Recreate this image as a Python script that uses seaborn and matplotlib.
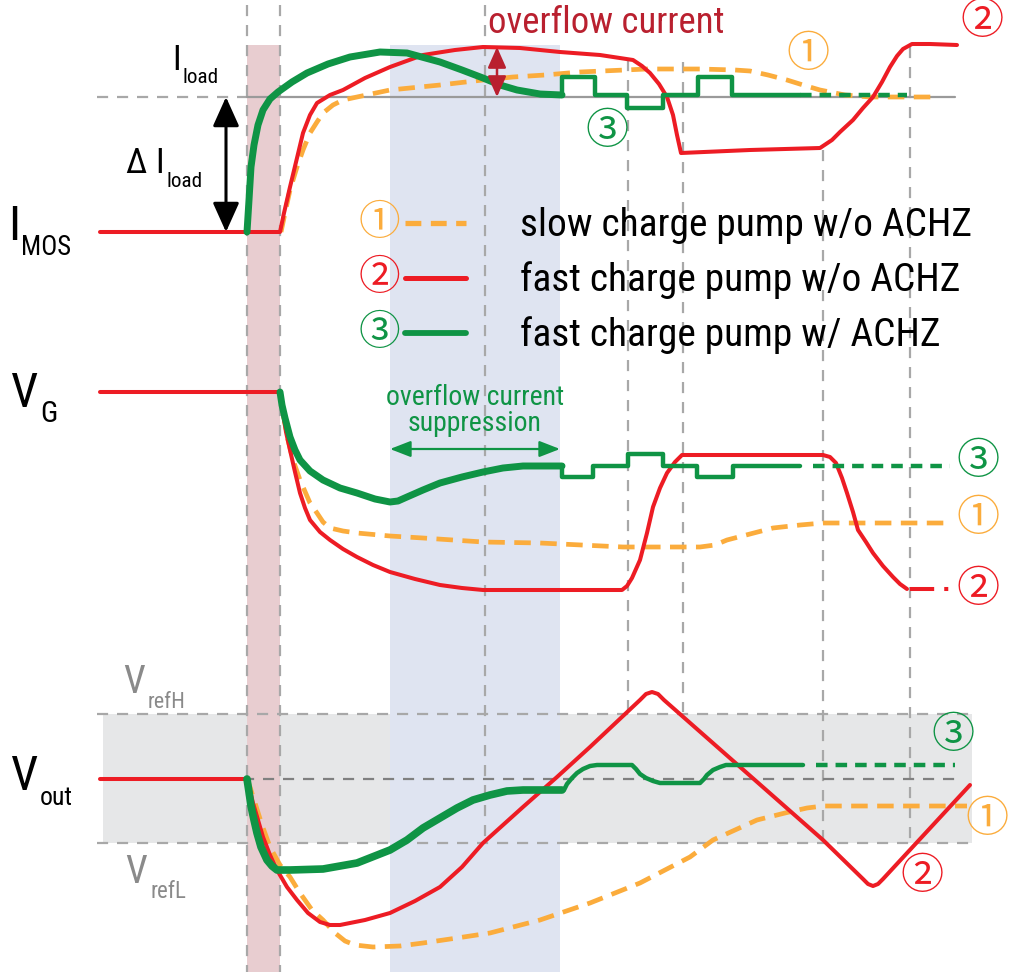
import numpy as np
import pandas as pd
import matplotlib
matplotlib.use("Agg")
import matplotlib.pyplot as plt
from matplotlib import font_manager
from matplotlib.patches import ArrowStyle
import seaborn as sns

sns.set_theme(style="white")

# pick a narrow sans face if one is installed, else Liberation Sans
_fl = font_manager.fontManager.ttflist
_names = [f.name for f in _fl]
FONT, STRETCH = None, "normal"
for cand in ["Liberation Sans Narrow", "Arial Narrow", "Roboto Condensed", "Open Sans Condensed",
             "Noto Sans Condensed", "Noto Sans SemiCondensed", "DejaVu Sans Condensed"]:
    if cand in _names:
        FONT = cand
        break
if FONT is None:
    for fam in ["Roboto", "Noto Sans", "Open Sans", "Liberation Sans"]:
        if any(f.name == fam and str(f.stretch) in ("condensed", "semi-condensed", "extra-condensed", "75", "87.5")
               for f in _fl):
            FONT, STRETCH = fam, "condensed"
            break
if FONT is None:
    FONT = "Liberation Sans"
plt.rcParams["font.family"] = [FONT, "DejaVu Sans"]
CJK = ["Noto Sans CJK JP", "DejaVu Sans"]

# ---------------- data (picture coordinates, y grows downward) ----------------
series_names = ["slow charge pump w/o ACHZ", "fast charge pump w/o ACHZ", "fast charge pump w/ ACHZ"]
series_marks = ["①", "②", "③"]

# I_MOS panel
red_i_x = [100, 280, 284, 290, 297, 303, 310, 317, 330, 343, 365, 390, 423, 455, 483, 520, 560, 600, 633, 642,
           650, 659, 667, 673, 677, 681, 750, 820, 832, 840, 853, 863, 873, 882, 890, 897, 903, 912, 930, 957]
red_i_y = [232, 232, 213, 187, 158, 133, 115, 103, 95, 90, 78, 67, 55, 50, 47, 48, 52, 55, 60, 66,
           73, 84, 97, 115, 135, 153, 150, 148, 140, 132, 120, 108, 97, 82, 67, 56, 49, 44, 44, 45]
green_i_x = [247, 249, 251, 254, 258, 263, 270, 278, 292, 307, 328, 350, 380, 407, 440, 462, 483, 500, 517, 540, 562]
green_i_y = [232, 200, 167, 145, 125, 110, 99, 92, 82, 73, 64, 57, 52, 53, 62, 70, 78, 85, 90, 94, 95]
green_i_step_x = [540, 562, 562, 595, 595, 627, 627, 663, 663, 698, 698, 732, 732, 800]
green_i_step_y = [95, 95, 77, 77, 95, 95, 108, 108, 95, 95, 77, 77, 95, 95]
green_i_tail_x = [800, 907]
green_i_tail_y = [95, 95]
orange_i_x = [281, 285, 290, 297, 303, 310, 317, 323, 333, 343, 357, 390, 440, 483, 513, 545, 580, 647, 700,
              735, 750, 768, 787, 803, 820, 845, 870, 900, 935]
orange_i_y = [232, 213, 190, 167, 150, 133, 122, 113, 105, 100, 97, 90, 85, 80, 77, 75, 72, 69, 69,
              70, 71, 75, 80, 85, 90, 95, 97, 97, 97]

# V_G panel
red_g_x = [100, 280, 283, 286, 290, 295, 300, 305, 310, 320, 330, 343, 357, 373, 390, 415, 440, 462, 483, 622, 627,
           632, 640, 647, 653, 660, 667, 675, 682, 823, 830, 836, 842, 847, 853, 858, 866, 873, 883, 893, 900, 907]
red_g_y = [392, 392, 413, 432, 450, 472, 493, 508, 520, 532, 540, 549, 557, 565, 572, 579, 585, 588, 590, 590, 586,
           578, 560, 533, 507, 488, 473, 462, 455, 455, 457, 463, 478, 493, 512, 530, 542, 553, 566, 577, 584, 589]
red_g_tail_x = [910, 952]
red_g_tail_y = [589, 589]
green_g_x = [280, 282, 285, 290, 295, 300, 310, 323, 340, 357, 375, 390, 398, 407, 423, 440, 462, 483, 503, 523, 562]
green_g_y = [392, 405, 418, 437, 450, 460, 471, 480, 488, 493, 499, 502, 501, 497, 490, 483, 477, 472, 468, 466, 466]
green_g_step_x = [540, 562, 562, 593, 593, 628, 628, 663, 663, 697, 697, 733, 733, 800]
green_g_step_y = [466, 466, 477, 477, 466, 466, 454, 454, 466, 466, 477, 477, 466, 466]
green_g_tail_x = [813, 950]
green_g_tail_y = [466, 466]
orange_g_x = [283, 288, 293, 300, 310, 317, 323, 330, 343, 357, 390, 423, 483, 540, 623, 700, 715, 727, 750, 773,
              800, 823, 880, 950]
orange_g_y = [413, 440, 460, 480, 503, 513, 522, 528, 531, 533, 536, 538, 542, 543, 547, 547, 545, 540, 534, 528,
              525, 523, 523, 523]

# V_out panel
red_v_x = [100, 247, 250, 253, 258, 263, 270, 277, 287, 297, 308, 320, 330, 340, 365, 390, 415, 440, 462, 483, 523,
           557, 590, 640, 646, 652, 658, 664, 823, 863, 868, 873, 878, 883, 970]
red_v_y = [779, 779, 790, 803, 820, 837, 855, 870, 887, 900, 913, 922, 925, 925, 920, 913, 901, 887, 867, 843, 807,
           777, 747, 700, 694, 692, 694, 700, 840, 879, 884, 886, 884, 879, 785]
green_v_x = [247, 249, 251, 254, 257, 261, 267, 272, 277, 290, 323, 357, 390, 407, 423, 440, 457, 473, 490, 507,
             523, 562]
green_v_y = [779, 792, 806, 820, 833, 847, 860, 866, 870, 870, 869, 863, 850, 840, 828, 818, 808, 800, 795, 791,
             790, 790]
green_v_step_x = [555, 564, 567, 572, 577, 583, 590, 597, 632, 636, 640, 646, 653, 660, 667, 700, 704, 707, 713,
                  720, 726, 733, 803]
green_v_step_y = [790, 790, 784, 778, 773, 769, 766, 765, 765, 769, 774, 778, 781, 783, 783, 783, 779, 775, 770,
                  767, 765, 765, 765]
green_v_tail_x = [816, 955]
green_v_tail_y = [765, 765]
orange_v_x = [247, 250, 255, 262, 270, 280, 290, 300, 312, 323, 335, 345, 355, 373, 400, 423, 457, 490, 540, 590,
              640, 690, 713, 735, 757, 785, 807, 823, 900, 967]
orange_v_y = [779, 787, 803, 825, 847, 865, 877, 893, 910, 920, 933, 941, 945, 947, 946, 943, 938, 933, 920, 903,
              883, 857, 840, 830, 820, 813, 808, 806, 806, 806]

# event markers and reference levels
event_x = [247, 280, 485, 628, 683, 823, 910]
event_top = [5, 5, 5, 60, 62, 150, 47]
event_bottom = [972, 972, 843, 712, 712, 843, 843]
i_load_y = 97
v_refH_y = 714
v_refL_y = 843
v_mid_y = 779

# ---------------- colours ----------------
C_RED = "#ed1c24"
C_GREEN = "#0f9445"
C_ORANGE = "#fbac3c"
C_DRED = "#b9202f"
C_GRID = "#a8a8a8"

fig = plt.figure(figsize=(10.09, 9.72), dpi=100)
ax = fig.add_axes([0, 0, 1, 1])
ax.set_xlim(0, 1009)
ax.set_ylim(972, 0)
R = fig.canvas.get_renderer()

# background bands
ax.fill_between([103, 972], [v_refH_y, v_refH_y], [v_refL_y, v_refL_y], color="#e6e7e8", lw=0, zorder=0)
ax.fill_between([390, 560], [45, 45], [972, 972], color="#dfe4f1", lw=0, zorder=0.5)
ax.fill_between([247, 280], [45, 45], [972, 972], color="#e8cdd0", lw=0, zorder=0.6)

# event lines
for x, t, b in zip(event_x, event_top, event_bottom):
    ax.plot([x, x], [t, b], color=C_GRID, lw=1.6, ls=(0, (5, 4)), zorder=1)
# reference lines
ax.plot([97, 247], [i_load_y, i_load_y], color=C_GRID, lw=1.6, ls=(0, (5, 4)), zorder=1)
ax.plot([247, 955], [i_load_y, i_load_y], color="#9a9a9a", lw=1.6, zorder=1)
ax.plot([97, 972], [v_refH_y, v_refH_y], color=C_GRID, lw=1.6, ls=(0, (5, 4)), zorder=1)
ax.plot([97, 972], [v_refL_y, v_refL_y], color=C_GRID, lw=1.6, ls=(0, (5, 4)), zorder=1)
ax.plot([103, 957], [v_mid_y, v_mid_y], color="#808080", lw=1.6, ls=(0, (5, 4)), zorder=1)


def curve(x, y, color, lw, ls="-", z=3):
    sns.lineplot(x=x, y=y, sort=False, estimator=None, color=color, lw=lw, linestyle=ls,
                 ax=ax, zorder=z, solid_capstyle="round", solid_joinstyle="round")


ODASH = (0, (3.5, 2.0))
GDASH = (0, (2.6, 1.8))
curve(orange_i_x, orange_i_y, C_ORANGE, 3.4, ODASH, 2.5)
curve(orange_g_x, orange_g_y, C_ORANGE, 3.4, ODASH, 2.5)
curve(orange_v_x, orange_v_y, C_ORANGE, 3.4, ODASH, 2.5)
curve(red_i_x, red_i_y, C_RED, 2.9)
curve(red_g_x, red_g_y, C_RED, 2.9)
curve(red_g_tail_x, red_g_tail_y, C_RED, 2.9, (0, (6, 2.5, 1, 2.5)))
curve(red_v_x, red_v_y, C_RED, 2.9)
curve(green_i_x, green_i_y, C_GREEN, 5.0, "-", 4)
curve(green_i_step_x, green_i_step_y, C_GREEN, 3.2, "-", 4)
curve(green_i_tail_x, green_i_tail_y, C_GREEN, 3.2, GDASH, 4)
curve(green_g_x, green_g_y, C_GREEN, 5.0, "-", 4)
curve(green_g_step_x, green_g_step_y, C_GREEN, 3.2, "-", 4)
curve(green_g_tail_x, green_g_tail_y, C_GREEN, 3.2, GDASH, 4)
curve(green_v_x, green_v_y, C_GREEN, 5.5, "-", 4)
curve(green_v_step_x, green_v_step_y, C_GREEN, 3.2, "-", 4)
curve(green_v_tail_x, green_v_tail_y, C_GREEN, 3.2, GDASH, 4)
ax.set_xlim(0, 1009)
ax.set_ylim(972, 0)


def put(x, y, s, size, width=None, **kw):
    """Place text; shrink the font size if it is wider than the reference width (pixels)."""
    kw.setdefault("ha", "left")
    kw.setdefault("va", "baseline")
    kw.setdefault("fontstretch", STRETCH)
    t = ax.text(x, y, s, fontsize=size, **kw)
    if width is not None:
        w = t.get_window_extent(R).width
        if w > width:
            t.set_fontsize(size * width / w)
    return t


def fit_size(s, size, width):
    t = ax.text(0, 0, s, fontsize=size, fontstretch=STRETCH)
    w = t.get_window_extent(R).width
    t.remove()
    return min(size, size * width / w)


# legend
leg_y = [223, 278, 333]
leg_colors = [C_ORANGE, C_RED, C_GREEN]
leg_ls = [(0, (3.0, 1.8)), "-", "-"]
leg_lw = [3.8, 3.6, 4.2]
leg_size = fit_size(series_names[0], 30, 452)
for yy, c, ls, lw, name, mk in zip(leg_y, leg_colors, leg_ls, leg_lw, series_names, series_marks):
    ax.plot([405, 466], [yy, yy], color=c, lw=lw, ls=ls, solid_capstyle="round", zorder=3)
    put(520, yy + 13, name, leg_size, color="black", zorder=6)
    ax.text(379, yy, mk, fontsize=30, color=c, family=CJK, ha="center", va="center", zorder=6)

# circled markers on curves
marks = [("①", 808, 55, C_ORANGE), ("②", 982, 22, C_RED), ("③", 607, 132, C_GREEN),
         ("③", 978, 462, C_GREEN), ("①", 978, 519, C_ORANGE), ("②", 978, 590, C_RED),
         ("③", 953, 736, C_GREEN), ("①", 987, 820, C_ORANGE), ("②", 922, 877, C_RED)]
for m, x, y, c in marks:
    ax.text(x, y, m, fontsize=31, color=c, family=CJK, ha="center", va="center", zorder=6)


# axis labels: main letter + subscript placed right after it
def lab(x, y, main, sub, sub_x, dy, size, subsize, sub_w, color="black"):
    t = put(x, y, main, size, color=color)
    x1 = ax.transData.inverted().transform(t.get_window_extent(R))[1][0]
    put(max(sub_x, x1 + 1), y + dy, sub, subsize, width=sub_w, color=color)


lab(8, 240, "I", "MOS", 20, 15, 35, 20, 50)
lab(11, 407, "V", "G", 40, 15, 35, 21, 18)
lab(11, 790, "V", "out", 40, 15, 35, 21, 33)
lab(172, 70, "I", "load", 183, 13, 25, 18, 36)
put(125, 173, "Δ", 25, color="black")
lab(155, 173, "I", "load", 167, 14, 25, 18, 36)
lab(123, 693, "V", "refH", 148, 15, 28, 18, 38, color="#8a8a8a")
lab(125, 883, "V", "refL", 150, 15, 28, 18, 36, color="#8a8a8a")

# annotations
put(488, 33, "overflow current", 28, width=236, color=C_DRED)
gsize = fit_size("overflow current", 20, 188)
put(475, 405, "overflow current", gsize, color=C_GREEN, ha="center")
put(475, 431, "suppression", gsize, color=C_GREEN, ha="center")

ax.annotate("", xy=(226, 97), xytext=(226, 232),
            arrowprops=dict(arrowstyle=ArrowStyle("<|-|>", head_length=1.0, head_width=0.45),
                            mutation_scale=18, color="black", lw=2.2, shrinkA=0, shrinkB=0), zorder=5)
ax.annotate("", xy=(497, 47), xytext=(497, 97),
            arrowprops=dict(arrowstyle=ArrowStyle("<|-|>", head_length=0.9, head_width=0.4),
                            mutation_scale=14, color=C_DRED, lw=1.8, shrinkA=0, shrinkB=0), zorder=5)
ax.annotate("", xy=(390, 449), xytext=(560, 449),
            arrowprops=dict(arrowstyle=ArrowStyle("<|-|>", head_length=0.9, head_width=0.35),
                            mutation_scale=14, color=C_GREEN, lw=1.6, shrinkA=0, shrinkB=0), zorder=5)

ax.set_xlim(0, 1009)
ax.set_ylim(972, 0)
ax.axis("off")
fig.savefig("out.png", dpi=100, facecolor="white")
